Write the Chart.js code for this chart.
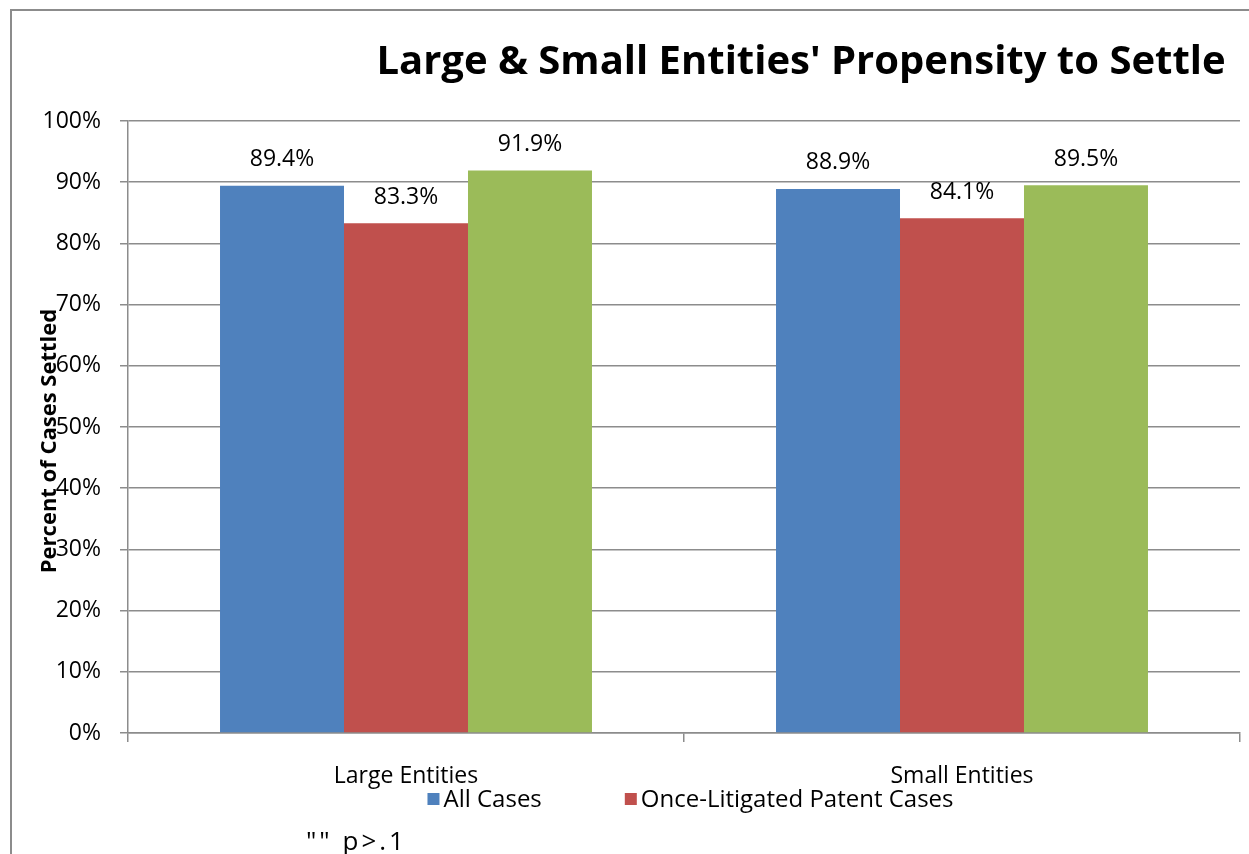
<!DOCTYPE html>
<html>
<head>
<meta charset="utf-8">
<script src="https://cdn.jsdelivr.net/npm/chart.js@4.4.1/dist/chart.umd.min.js"></script>
<style>
  html, body { margin: 0; padding: 0; background: #fff; overflow: hidden; width: 1249px; height: 854px; }
  #frame { position: absolute; left: 10px; top: 9px; width: 1400px; height: 1000px; border: 2px solid #8c8c8c; box-sizing: border-box; }
  #c { position: absolute; left: 0; top: 0; }
</style>
</head>
<body>
<div id="frame"></div>
<canvas id="c" width="1249" height="854"></canvas>
<script>
const categories = ['Large Entities', 'Small Entities'];
const seriesNames = ['All Cases', 'Once-Litigated Patent Cases', 'Multiply-Litigated Patent Cases'];
const allCases = [89.4, 88.9];
const onceLitigated = [83.3, 84.1];
const multiLitigated = [91.9, 89.5];
const yTicks = [0, 10, 20, 30, 40, 50, 60, 70, 80, 90, 100];
const legendShown = ['All Cases', 'Once-Litigated Patent Cases'];
const titleText = "Large & Small Entities' Propensity to Settle";
const yTitleText = 'Percent of Cases Settled';
const footnoteText = '"" p>.1';

const colors = ['#4F81BD', '#C0504D', '#9BBB59'];
const FONT = '"Open Sans", Lato, sans-serif';

const decor = {
  id: 'decor',
  afterDatasetsDraw(chart) {
    const ctx = chart.ctx;
    ctx.save();
    ctx.fillStyle = '#000';
    ctx.font = '23px ' + FONT;
    ctx.textAlign = 'center';
    ctx.textBaseline = 'middle';
    chart.data.datasets.forEach((ds, di) => {
      const meta = chart.getDatasetMeta(di);
      meta.data.forEach((bar, i) => {
        ctx.fillText(ds.data[i].toFixed(1) + '%', bar.x, bar.y - 26);
      });
    });
    ctx.restore();
  },
  afterDraw(chart) {
    const ctx = chart.ctx;
    ctx.save();
    ctx.fillStyle = '#000';
    // title
    ctx.font = 'bold 40px ' + FONT;
    ctx.textAlign = 'center';
    ctx.textBaseline = 'middle';
    ctx.fillText(titleText, 801, 63);
    // y title
    ctx.save();
    ctx.translate(50, 441);
    ctx.rotate(-Math.PI / 2);
    ctx.font = 'bold 22px ' + FONT;
    ctx.fillText(yTitleText, 0, 0);
    ctx.restore();
    // legend (only the visible items)
    ctx.font = '24px ' + FONT;
    ctx.textAlign = 'left';
    const items = chart.data.datasets.map((d) => ({label: d.label, color: d.backgroundColor})).filter(it => legendShown.includes(it.label));
    const box = 12, gapText = 4, gapItems = 83;
    let total = 0;
    items.forEach((it, k) => { total += box + gapText + ctx.measureText(it.label).width + (k < items.length - 1 ? gapItems : 0); });
    let x = 690.5 - total / 2;
    const ly = 799;
    items.forEach((it) => {
      ctx.fillStyle = it.color;
      ctx.fillRect(x, ly - box / 2, box, box);
      ctx.fillStyle = '#000';
      ctx.fillText(it.label, x + box + gapText, ly + 1);
      x += box + gapText + ctx.measureText(it.label).width + gapItems;
    });
    // footnote
    ctx.font = '26px ' + FONT;
    ctx.textAlign = 'left';
    ctx.letterSpacing = '3px';
    ctx.fillText(footnoteText, 306, 843);
    ctx.restore();
  }
};

new Chart(document.getElementById('c'), {
  type: 'bar',
  data: {
    labels: categories,
    datasets: [
      { label: seriesNames[0], data: allCases, backgroundColor: colors[0] },
      { label: seriesNames[1], data: onceLitigated, backgroundColor: colors[1] },
      { label: seriesNames[2], data: multiLitigated, backgroundColor: colors[2] }
    ]
  },
  options: {
    responsive: false,
    animation: false,
    devicePixelRatio: 1,
    layout: { padding: { top: 121, right: 9, left: 0, bottom: 51 } },
    datasets: { bar: { categoryPercentage: 0.669, barPercentage: 1.0, borderWidth: 0 } },
    plugins: {
      legend: { display: false },
      title: { display: false },
      tooltip: { enabled: false }
    },
    scales: {
      x: {
        afterFit(scale) { scale.height = 70; },
        grid: { display: true, drawOnChartArea: false, drawTicks: true, tickLength: 9, color: '#8c8c8c', lineWidth: 1.5, offset: true },
        border: { display: true, color: '#8c8c8c', width: 1.5 },
        ticks: { color: '#000', font: { family: FONT, size: 23 }, padding: 21 }
      },
      y: {
        min: 0, max: 100,
        afterFit(scale) { scale.width = 128; },
        afterBuildTicks(scale) { scale.ticks = yTicks.map(v => ({ value: v })); },
        grid: { color: '#8c8c8c', lineWidth: 1.5, tickLength: 8 },
        border: { display: true, color: '#8c8c8c', width: 1.5 },
        ticks: { color: '#000', font: { family: FONT, size: 23 }, padding: 19, callback: v => v + '%' }
      }
    }
  },
  plugins: [decor]
});
</script>
</body>
</html>
